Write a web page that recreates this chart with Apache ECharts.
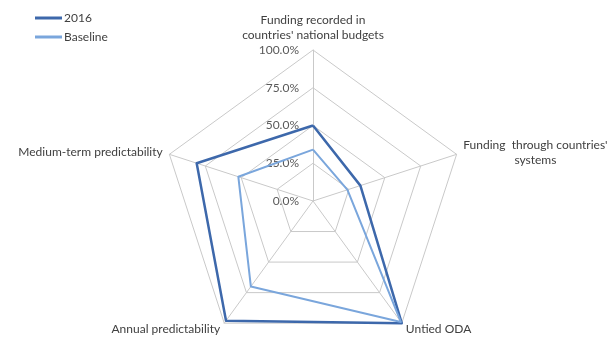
<!DOCTYPE html>
<html>
<head>
<meta charset="utf-8">
<script src="https://cdn.jsdelivr.net/npm/echarts@6/dist/echarts.min.js"></script>
<style>
  html, body { margin: 0; padding: 0; background: #fff; }
  #chart { width: 610px; height: 340px; }
</style>
</head>
<body>
<div id="chart"></div>
<script>
// Aid effectiveness indicators (percent), listed in the radar's
// counter-clockwise drawing order starting from the top axis
const indicators = [
  "Funding recorded in\ncountries' national budgets",
  "Medium-term predictability",
  "Annual predictability",
  "Untied ODA",
  "{c|Funding  through countries'}\n{c|systems}"
];
const values2016 = [50, 81, 98, 100, 33];
const valuesBaseline = [34, 52, 70, 99, 24];
const seriesNames = ['2016', 'Baseline'];
const seriesColors = ['#3d68ab', '#7aa6dc'];

const chart = echarts.init(document.getElementById('chart'));

const nameStyle = { color: '#404040', fontSize: 12, lineHeight: 15, fontFamily: 'Lato, sans-serif' };

chart.setOption({
  animation: false,
  textStyle: { fontFamily: 'Lato, sans-serif' },
  legend: {
    orient: 'vertical',
    left: 30,
    top: 7,
    itemGap: 7,
    itemWidth: 27,
    itemHeight: 3,
    icon: 'rect',
    textStyle: { color: '#404040', fontSize: 12, padding: [0, 0, 0, -3] },
    data: seriesNames
  },
  radar: {
    center: [313, 201],
    radius: 151,
    startAngle: 90,
    shape: 'polygon',
    splitNumber: 4,
    nameGap: 7,
    axisName: Object.assign({}, nameStyle, {
      rich: { c: Object.assign({ align: 'center' }, nameStyle) }
    }),
    splitLine: { lineStyle: { color: '#c9c9c9', width: 1 } },
    axisLine: { lineStyle: { color: '#c9c9c9', width: 1 } },
    splitArea: { show: false },
    axisTick: { show: false },
    axisLabel: { show: false },
    indicator: indicators.map((name, i) => {
      const ind = { name: name, min: 0, max: 100 };
      if (i === 0) {
        ind.axisLabel = {
          show: true,
          color: '#595959',
          fontSize: 12,
          margin: 14,
          formatter: v => v.toFixed(1) + '%'
        };
      }
      return ind;
    })
  },
  series: [{
    type: 'radar',
    symbol: 'none',
    data: [
      {
        name: seriesNames[0],
        value: values2016,
        lineStyle: { color: seriesColors[0], width: 2.5 },
        itemStyle: { color: seriesColors[0] }
      },
      {
        name: seriesNames[1],
        value: valuesBaseline,
        lineStyle: { color: seriesColors[1], width: 2 },
        itemStyle: { color: seriesColors[1] }
      }
    ]
  }]
});
</script>
</body>
</html>
